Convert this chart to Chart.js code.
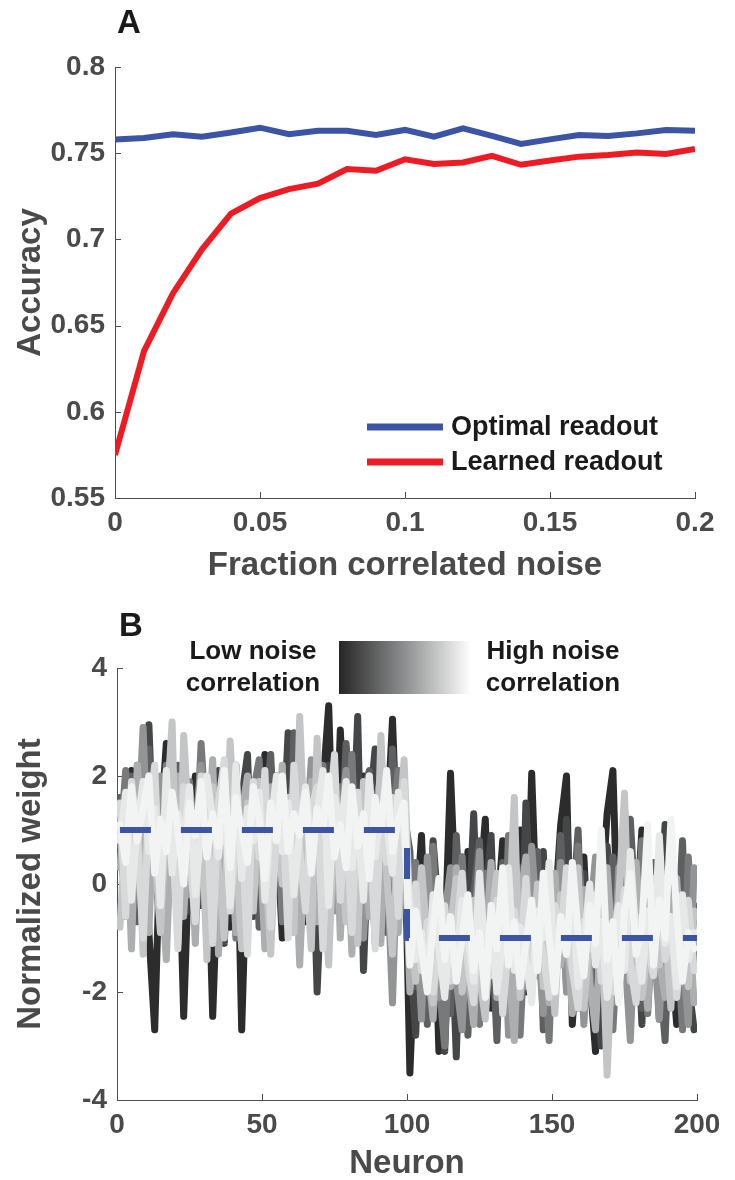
<!DOCTYPE html>
<html>
<head>
<meta charset="utf-8">
<script src="https://cdn.jsdelivr.net/npm/chart.js@4.4.0/dist/chart.umd.min.js"></script>
<style>
  body { margin: 0; background: #fff; }
  canvas { display: block; }
</style>
</head>
<body>
<canvas id="chartA" width="735" height="600"></canvas>
<canvas id="chartB" width="735" height="580"></canvas>
<script>
// ---- panel A data ----
const noiseFraction = [0, 0.01, 0.02, 0.03, 0.04, 0.05, 0.06, 0.07, 0.08, 0.09, 0.1,
    0.11, 0.12, 0.13, 0.14, 0.15, 0.16, 0.17, 0.18, 0.19, 0.2];
const optimalAcc = [0.758, 0.7588, 0.761, 0.7596, 0.762, 0.7648, 0.761, 0.763, 0.763, 0.7606, 0.7635,
    0.7596, 0.7644, 0.760, 0.7554, 0.758, 0.7606, 0.760, 0.7615, 0.7635, 0.763];
const learnedAcc = [0.575, 0.6352, 0.6688, 0.6942, 0.715, 0.724, 0.7292, 0.7323, 0.7408, 0.7398, 0.7465,
    0.7438, 0.7446, 0.7485, 0.7433, 0.7458, 0.748, 0.749, 0.7504, 0.7496, 0.7525];
const fractionTicks = [0, 0.05, 0.1, 0.15, 0.2];
const accuracyTicks = [0.55, 0.6, 0.65, 0.7, 0.75, 0.8];

// ---- panel B data ----
const neuron = [1,3,5,7,9,11,13,15,17,19,21,23,25,27,29,31,33,35,37,39,41,43,45,47,49,
    51,53,55,57,59,61,63,65,67,69,71,73,75,77,79,81,83,85,87,89,91,93,95,97,99,
    101,103,105,107,109,111,113,115,117,119,121,123,125,127,129,131,133,135,137,139,141,143,145,147,149,
    151,153,155,157,159,161,163,165,167,169,171,173,175,177,179,181,183,185,187,189,191,193,195,197,199];
// weights, from low noise correlation (dark) to high noise correlation (light)
const weight1 = [1.2, -0.6, 2.1, 0.4, 1.6, -0.9, -2.7, 1.0, 2.6, 0.2,
    1.5, -2.45, 0.8, 2.0, -0.4, 1.3, -2.45, 0.6, 1.9, -0.8,
    2.2, -2.7, 0.9, 1.4, -0.5, 2.4, 0.3, 1.1, -1.0, 1.7,
    0.5, 2.3, -0.7, 1.2, 0.0, 1.8, 3.3, -0.3, 2.85, 0.7,
    1.4, -0.9, 2.0, 0.2, 1.6, -0.6, 0.9, 3.05, 0.1, 1.5,
    -3.5, -0.8, 0.9, -1.9, 0.4, -3.1, -1.2, 2.05, -0.6, -2.2,
    0.6, -1.4, -0.2, 1.2, -2.3, -0.7, 0.8, -1.8, -0.3, 1.0,
    -2.0, 2.05, -1.1, 0.3, -2.4, -0.5, 1.1, 2.0, -2.6, -0.9,
    0.5, -1.7, -3.1, -0.4, 1.3, 2.1, -1.5, 0.2, -2.1, -0.8,
    1.0, -1.9, -0.1, -2.5, 0.7, -1.2, -2.6, 0.4, -1.6, -0.5];
const weight2 = [0.4, 1.7, -0.3, 2.2, 0.9, 2.95, 0.1, 1.4, -0.8, 1.9,
    0.6, 2.3, -0.5, 1.1, 1.8, -0.2, 0.7, 2.1, -1.1, 1.3,
    0.2, 1.6, 2.4, -0.6, 0.8, 1.5, -0.9, 2.0, 0.5, 2.8,
    -0.4, 1.2, 0.3, 1.9, -2.0, 0.6, 2.2, 1.0, -0.1, 1.7,
    0.4, 3.1, -1.6, 1.3, 2.5, 0.0, 1.1, -0.8, 1.8, 0.6,
    -1.2, -2.8, 0.3, -1.5, 0.8, -0.6, -3.1, -0.2, -3.2, 0.5,
    -1.1, 1.3, -1.8, -0.4, 0.9, -2.2, -0.9, 0.4, -1.6, -2.5,
    1.5, -0.7, -1.3, 0.6, -2.0, -0.3, -1.4, 1.2, -0.8, -2.3,
    0.2, -1.0, -1.7, -3.0, 0.7, -0.5, -2.1, 1.4, -1.2, -0.2,
    -2.6, 0.3, -1.5, -0.6, 1.1, -2.2, -0.9, 0.5, -1.8, -2.7];
const weight3 = [1.6, 0.0, 2.0, -0.7, 1.2, 2.5, 0.4, -0.9, 1.7, 0.8,
    2.2, -0.3, 1.4, 0.6, 2.0, -1.0, 0.9, 1.6, 0.1, 2.3,
    -0.5, 1.1, 0.7, 1.9, -0.8, 1.3, 2.4, 0.2, 1.0, -0.6,
    2.8, 0.5, 1.5, -0.2, 2.0, 0.8, -1.1, 1.4, 0.3, 2.6,
    0.9, -0.4, 1.7, 2.1, 0.0, 1.2, -0.9, 2.5, 0.6, 1.3,
    0.6, -1.9, -0.4, -2.6, 0.2, -1.3, -0.7, -2.4, 0.9, -1.0,
    -2.8, -0.2, 0.8, -1.6, -0.5, -2.9, 0.4, -1.1, -2.0, 0.3,
    -0.8, -1.5, 0.6, -2.7, -0.3, -1.2, 0.9, -1.9, -0.6, 1.0,
    -2.2, -0.9, 0.1, -1.4, -2.5, 0.5, -0.4, -1.8, 1.2, -0.7,
    -2.3, -1.0, 0.4, -1.6, -2.9, 0.0, -1.3, 0.8, -2.1, -0.4];
const weight4 = [0.7, 2.1, -0.4, 1.3, 0.2, 1.8, 1.0, -0.8, 2.2, 0.5,
    1.4, -0.2, 1.9, 0.3, 2.6, 0.9, -0.6, 1.5, 0.6, 2.0,
    -1.0, 1.2, 0.4, 1.7, 2.3, -0.3, 0.8, 1.6, -0.7, 1.1,
    2.0, 0.1, 1.3, -0.9, 0.6, 2.2, 1.0, -0.2, 1.8, 0.4,
    2.4, -0.5, 0.9, 1.5, -1.1, 1.9, 0.2, 1.2, 2.1, -0.1,
    -0.5, 0.4, -2.3, -1.0, 0.7, -1.8, -3.0, -0.4, -1.2, 0.5,
    -2.0, -0.8, -2.6, 0.2, -1.4, -0.3, -2.2, 0.9, -1.1, -2.8,
    -0.6, 0.4, -1.7, -0.9, -2.9, 0.1, -1.3, -0.5, -2.3, 0.7,
    -1.0, -2.0, -0.2, 0.6, -1.6, -2.7, -0.7, 0.3, -1.9, -1.1,
    0.8, -2.4, -0.4, -1.5, 0.2, -2.0, -0.8, -2.7, 0.5, -1.4];
const weight5 = [1.1, -0.5, 1.8, 0.6, 2.9, 0.0, 1.4, 2.0, -0.7, 1.2,
    0.5, 1.9, -0.2, 1.0, 2.2, 0.3, 1.6, -0.9, 1.3, 0.7,
    2.1, -0.4, 1.5, 0.2, 1.8, 0.9, -0.6, 2.0, 1.1, 0.4,
    -0.8, 1.7, 0.6, 2.3, 0.0, 1.2, 1.9, -0.5, 1.0, 2.1,
    0.3, 1.6, -1.0, 0.8, 1.4, 2.0, 0.5, -2.2, 1.3, 0.7,
    -1.6, -0.3, -2.5, 0.5, -1.2, -2.1, -0.6, 0.3, -1.8, -2.7,
    -0.4, -1.1, 0.6, -2.3, -0.8, -1.5, 0.2, -2.8, -1.0, -0.2,
    -1.9, 0.7, -0.9, -2.4, -0.5, -1.3, 0.4, -2.0, -1.1, -0.3,
    -2.6, -0.7, 0.5, -1.5, -0.9, -2.2, 0.3, -1.2, -2.9, -0.4,
    -1.7, 0.6, -1.0, -2.5, -0.6, 0.2, -1.8, -1.2, -2.6, 0.3];
const weight6 = [0.3, 1.6, -1.2, 2.2, 0.7, -0.9, 1.9, 0.2, -1.4, 1.4,
    2.0, -0.6, 1.3, -1.1, 1.7, 0.5, 2.3, -1.3, 1.0, 1.6,
    -0.9, 1.3, 2.0, -0.4, 1.1, -1.2, 1.8, 0.8, 2.2, -0.8,
    1.4, -1.5, 1.0, 1.9, -0.7, 0.6, 1.5, 2.1, -1.0, 1.2,
    -1.3, 1.7, 0.9, -0.6, 1.6, -1.1, 2.0, 0.7, -0.9, 1.1,
    -2.0, -0.7, 0.2, -1.4, -2.5, -0.4, -1.1, -1.9, 0.3, -0.9,
    -1.6, -2.6, -0.2, -1.2, 0.4, -2.1, -0.8, -1.4, -2.9, -0.3,
    0.5, -1.7, -1.0, -0.4, -2.2, 0.2, -1.5, -0.7, -2.4, -1.2,
    -0.1, -1.8, -2.7, -0.6, 0.3, -1.3, -2.0, -0.5, -1.6, 0.4,
    -1.1, -2.3, -0.3, -1.4, -2.1, -0.8, 0.1, -1.6, -0.5, -2.2];
const weight7 = [-0.8, 1.0, 0.2, 1.5, -1.3, 2.0, 0.6, -0.9, 1.2, 3.0,
    -1.1, 2.75, 0.9, -0.6, 1.4, -1.4, 1.8, 0.3, -1.0, 2.65,
    0.7, -1.2, 1.5, -0.5, 1.9, 0.5, -1.3, 1.2, 0.0, 1.6,
    -0.9, 3.1, 0.4, -1.2, 2.7, 0.1, -1.5, 1.4, 0.8, -0.7,
    1.7, -1.1, 1.9, 0.6, -0.8, 2.75, 0.2, -1.3, 0.9, 2.3,
    -0.6, -1.8, 0.3, -1.1, -2.2, -0.4, -1.5, -0.8, 0.1, -2.0,
    -1.2, -0.3, -1.7, -2.5, -0.7, 0.2, -1.3, -0.9, 1.6, -2.1,
    -0.5, -1.4, 0.0, -1.9, -0.8, -2.4, -0.2, -1.1, -1.6, 0.3,
    -2.3, -0.9, -1.4, -0.4, -3.54, -1.0, -0.3, 1.68, -1.8, -0.6,
    -2.1, -1.2, 0.1, -1.5, -0.7, -2.3, -0.2, -1.3, -1.9, -0.5];
const weight8 = [1.5, -0.6, 1.9, 0.9, -1.0, 1.3, 2.2, -0.4, 1.6, 1.0,
    -1.2, 1.8, 0.6, -0.7, 2.0, 1.2, -1.1, 1.5, 2.3, -0.5,
    0.8, 1.1, -1.3, 1.9, 0.5, 2.1, -0.8, 0.9, 1.6, -1.0,
    2.2, 0.6, -0.5, 1.4, 1.8, -1.2, 1.1, 2.4, -0.3, 1.3,
    -0.9, 1.7, 0.0, 2.0, -1.2, 1.2, 0.4, 1.6, -0.6, 1.9,
    -1.1, 0.0, -1.6, -0.7, -2.0, -1.2, -0.4, -1.8, -0.9, 0.2,
    -1.5, -2.2, -0.6, -1.0, -1.7, -0.3, -2.4, -1.1, -0.5, -1.4,
    0.1, -1.9, -0.8, -1.3, -2.1, -0.4, -1.0, 0.3, -1.6, -2.3,
    -0.7, -1.2, -0.2, -1.8, -0.9, -2.0, -1.3, -0.1, -1.5, -2.2,
    -0.6, -1.1, -1.7, 0.0, -1.4, -0.8, -2.1, -1.0, -0.3, -1.6];
const weight9 = [0.8, 1.7, -0.3, 1.1, 1.9, 0.6, 1.4, -0.4, 2.1, 0.2,
    1.3, 0.7, 1.8, -0.2, 1.0, 2.0, 1.2, 0.5, 1.6, -0.4,
    2.2, 0.1, 1.4, 0.8, 1.7, -0.3, 1.1, 2.0, 0.6, 1.5,
    -0.2, 1.0, 1.8, 0.7, 1.3, 2.1, -0.4, 1.6, 0.9, 1.9,
    0.3, 1.2, -0.3, 2.0, 0.5, 1.4, 1.1, 0.2, 1.7, 0.9,
    -0.4, -1.4, -0.9, -1.9, -0.2, -1.2, -2.1, -0.7, -1.5, -0.3,
    -1.0, -1.8, 0.2, -1.3, -0.6, -2.0, -1.1, 0.3, -1.6, -0.8,
    -1.4, -2.2, -0.5, -1.0, 0.4, -1.7, -0.9, -1.3, -0.2, -1.9,
    -1.1, 0.0, -1.5, -0.7, -2.1, -1.2, -0.4, -1.6, 0.6, -1.0,
    -1.8, -0.5, -1.3, 0.9, -1.1, -0.6, -1.9, -0.2, -1.4, -0.9];
const weight10 = [1.1, 0.4, 1.8, 0.8, 1.4, 2.0, 0.2, 1.2, 0.6, 1.7,
    1.0, 0.0, 1.5, 0.9, 1.9, 0.5, 1.3, 0.7, 2.1, 0.3,
    1.6, 1.0, 0.4, 1.8, 1.2, 0.1, 1.5, 0.8, 2.0, 0.6,
    1.3, 0.9, 1.7, 0.2, 1.4, 1.0, 2.0, 0.5, 1.1, 0.3,
    1.8, 0.7, 1.3, 0.1, 1.6, 1.0, 2.1, 0.6, 1.2, 1.5,
    -1.5, -0.5, -1.2, -2.0, -0.8, 0.1, -1.4, -0.6, -1.8, -1.0,
    -0.2, -1.6, -0.9, -2.1, -0.4, -1.2, 0.3, -1.5, -0.7, -1.9,
    -1.1, -0.3, -1.6, 0.2, -1.0, -2.0, -0.6, -1.3, 0.4, -0.9,
    -1.7, -0.4, -1.1, 1.0, -1.4, -0.7, -2.2, -0.5, 0.2, -1.3,
    -0.8, 1.1, -1.5, -0.3, -1.0, 1.2, -0.6, -1.8, -0.9, -1.2];
const weightSeries = [weight1, weight2, weight3, weight4, weight5, weight6, weight7, weight8, weight9, weight10];
const weightColors = ['#2c2c2d', '#454647', '#5e5f60', '#78797a', '#939495',
    '#adaeaf', '#c4c5c6', '#d8d9da', '#e7e8e8', '#f2f3f3'];
const optimalNeuron = [1, 100, 100, 200];
const optimalWeight = [1, 1, -1, -1];
const neuronTicks = [0, 50, 100, 150, 200];
const weightTicks = [-4, -2, 0, 2, 4];

const BLUE = '#3b54a5';
const RED = '#ed1c24';
const AXIS = '#4d4d4d';
const TXT = '#4a4a4a';
const FONT = "'Liberation Sans', Arial, Helvetica, sans-serif";

Chart.defaults.font.family = FONT;

// MATLAB style ticks pointing into the plot
const inwardTicks = {
    id: 'inwardTicks',
    beforeDatasetsDraw(chart) {
        const { ctx, chartArea, scales } = chart;
        ctx.save();
        ctx.strokeStyle = AXIS;
        ctx.lineWidth = 1;
        ctx.beginPath();
        scales.x.ticks.forEach(t => {
            const px = Math.round(scales.x.getPixelForValue(t.value)) + 0.5;
            ctx.moveTo(px, chartArea.bottom);
            ctx.lineTo(px, chartArea.bottom - 6);
        });
        scales.y.ticks.forEach(t => {
            const py = Math.round(scales.y.getPixelForValue(t.value)) + 0.5;
            ctx.moveTo(chartArea.left, py);
            ctx.lineTo(chartArea.left + 6, py);
        });
        ctx.stroke();
        ctx.restore();
    }
};

function panelLetter(letter, x, y) {
    return {
        id: 'panel' + letter,
        afterDraw(chart) {
            const ctx = chart.ctx;
            ctx.save();
            ctx.fillStyle = '#1a1a1a';
            ctx.font = 'bold 33px ' + FONT;
            ctx.textBaseline = 'middle';
            ctx.fillText(letter, x, y);
            ctx.restore();
        }
    };
}

// legend inside the bottom right of panel A
const legendA = {
    id: 'legendA',
    afterDraw(chart) {
        const { ctx, chartArea } = chart;
        const x0 = chartArea.right - 328;
        let y = chartArea.bottom - 71;
        ctx.save();
        ctx.font = 'bold 27px ' + FONT;
        ctx.textBaseline = 'middle';
        chart.data.datasets.forEach(ds => {
            ctx.strokeStyle = ds.borderColor;
            ctx.lineWidth = 7;
            ctx.beginPath();
            ctx.moveTo(x0, y);
            ctx.lineTo(x0 + 76, y);
            ctx.stroke();
            ctx.fillStyle = '#1a1a1a';
            ctx.fillText(ds.label, x0 + 84, y + 1);
            y += 35;
        });
        ctx.restore();
    }
};

// grey scale key above panel B
const keyB = {
    id: 'keyB',
    afterDraw(chart) {
        const ctx = chart.ctx;
        ctx.save();
        const g = ctx.createLinearGradient(339, 0, 471, 0);
        g.addColorStop(0, '#262626');
        g.addColorStop(0.5, '#8e8f90');
        g.addColorStop(1, '#ffffff');
        ctx.fillStyle = g;
        ctx.fillRect(339, 41, 132, 53);
        ctx.fillStyle = '#1a1a1a';
        ctx.font = 'bold 26px ' + FONT;
        ctx.textAlign = 'center';
        ctx.textBaseline = 'middle';
        ctx.fillText('Low noise', 253, 52);
        ctx.fillText('correlation', 253, 84);
        ctx.fillText('High noise', 553, 52);
        ctx.fillText('correlation', 553, 84);
        ctx.restore();
    }
};

const tickFont = { size: 28, weight: 'bold' };
const titleFont = { size: 33, weight: 'bold', lineHeight: 1 };

function axisX(ticksArr, min, max, title, height) {
    return {
        type: 'linear', min: min, max: max,
        afterBuildTicks: s => { s.ticks = ticksArr.map(v => ({ value: v })); },
        afterFit: s => { s.height = height; },
        grid: { display: false, drawTicks: false },
        border: { display: true, color: AXIS, width: 1 },
        ticks: { padding: 8, color: TXT, font: tickFont, maxRotation: 0,
            callback: v => String(Number(v.toFixed(2))) },
        title: { display: true, text: title, color: TXT, font: titleFont,
            padding: { top: 0, bottom: height > 90 ? 18 : 0 } }
    };
}

function axisY(ticksArr, min, max, title, width) {
    return {
        min: min, max: max,
        afterBuildTicks: s => { s.ticks = ticksArr.map(v => ({ value: v })); },
        afterFit: s => { s.width = width; },
        grid: { display: false, drawTicks: false },
        border: { display: true, color: AXIS, width: 1 },
        ticks: { padding: 10, color: TXT, font: tickFont,
            callback: v => String(Number(v.toFixed(2))) },
        title: { display: true, text: title, color: TXT, font: titleFont,
            padding: { top: 14, bottom: 0 } }
    };
}

new Chart(document.getElementById('chartA'), {
    type: 'line',
    data: {
        datasets: [
            {
                label: 'Optimal readout',
                data: noiseFraction.map((x, i) => ({ x: x, y: optimalAcc[i] })),
                borderColor: BLUE, borderWidth: 6, pointRadius: 0, tension: 0
            },
            {
                label: 'Learned readout',
                data: noiseFraction.map((x, i) => ({ x: x, y: learnedAcc[i] })),
                borderColor: RED, borderWidth: 6, pointRadius: 0, tension: 0
            }
        ]
    },
    options: {
        responsive: false,
        animation: false,
        events: [],
        layout: { padding: { left: 0, right: 40, top: 67, bottom: 0 } },
        plugins: { legend: { display: false }, tooltip: { enabled: false } },
        scales: {
            x: axisX(fractionTicks, 0, 0.2, 'Fraction correlated noise', 102),
            y: axisY(accuracyTicks, 0.55, 0.8, 'Accuracy', 115)
        }
    },
    plugins: [inwardTicks, legendA, panelLetter('A', 117, 24)]
});

// optimal weights on top, then light to dark grey lines underneath
const datasetsB = [{
    label: 'Optimal',
    data: optimalNeuron.map((x, i) => ({ x: x, y: optimalWeight[i] })),
    borderColor: BLUE, borderWidth: 6, borderDash: [31, 30], borderCapStyle: 'butt',
    pointRadius: 0, tension: 0
}];
for (let k = weightSeries.length - 1; k >= 0; k--) {
    datasetsB.push({
        label: 'w' + (k + 1),
        data: neuron.map((x, i) => ({ x: x, y: weightSeries[k][i] })),
        borderColor: weightColors[k], borderWidth: 7,
        borderCapStyle: 'round', borderJoinStyle: 'round',
        pointRadius: 0, tension: 0
    });
}

new Chart(document.getElementById('chartB'), {
    type: 'line',
    data: { datasets: datasetsB },
    options: {
        responsive: false,
        animation: false,
        events: [],
        layout: { padding: { left: 0, right: 38, top: 68, bottom: 0 } },
        plugins: { legend: { display: false }, tooltip: { enabled: false } },
        scales: {
            x: axisX(neuronTicks, 0, 200, 'Neuron', 80),
            y: axisY(weightTicks, -4, 4, 'Normalized weight', 117)
        }
    },
    plugins: [inwardTicks, keyB, panelLetter('B', 119, 27)]
});
</script>
</body>
</html>
